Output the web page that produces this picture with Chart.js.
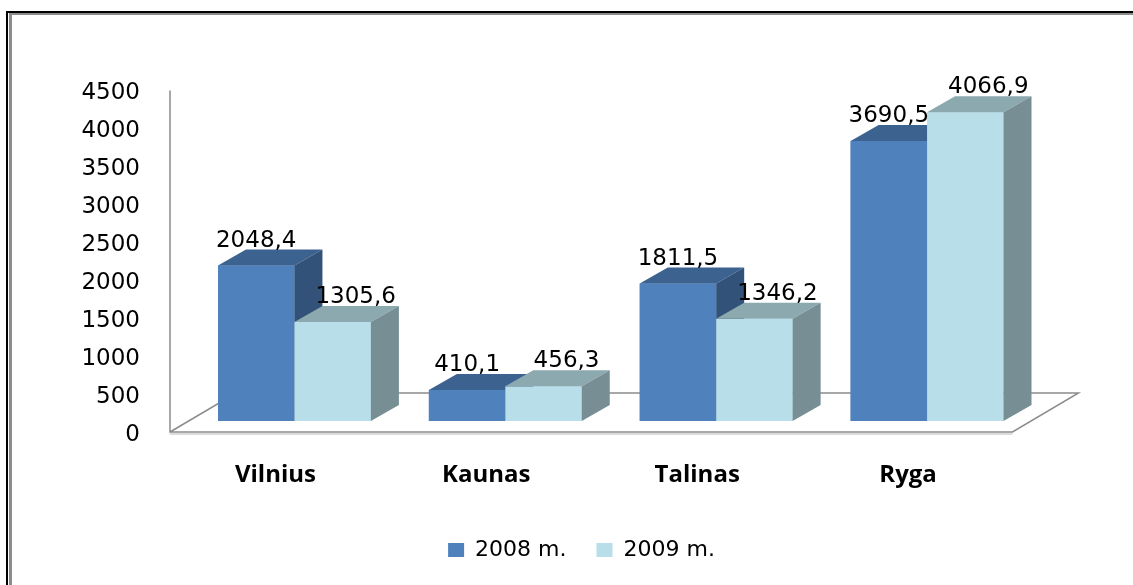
<!DOCTYPE html>
<html>
<head>
<meta charset="utf-8">
<script src="https://cdn.jsdelivr.net/npm/chart.js@4/dist/chart.umd.min.js"></script>
<style>
  html, body { margin: 0; padding: 0; background: #fff; overflow: hidden; }
  #wrap { width: 1133px; height: 585px; position: relative; }
</style>
</head>
<body>
<div id="wrap"><canvas id="grafico" width="1133" height="585"></canvas></div>
<script>
// dados
const cidades = ['Vilnius', 'Kaunas', 'Talinas', 'Ryga'];
const anos = ['2008 m.', '2009 m.'];
const valores2008 = [2048.4, 410.1, 1811.5, 3690.5];
const valores2009 = [1305.6, 456.3, 1346.2, 4066.9];
const yMax = 4500;
const yPasso = 500;

const frente = ['#4F81BD', '#B8DEE9'];
const topo = ['#3C6290', '#8CA9B0'];
const lado = ['#33527A', '#768E94'];

// profundidade 3D (px)
const prof = { x: 28, y: -16 };
const piso = { x: 66, y: -39 };
const desloc = { x: -19, y: 11 };

function formatar(v) {
  return v.toFixed(1).replace('.', ',');
}

const efeito3d = {
  id: 'efeito3d',
  beforeDraw(chart) {
    const c = chart.ctx;
    c.save();
    c.fillStyle = '#fff';
    c.fillRect(0, 0, chart.width, chart.height);
    // moldura
    c.fillStyle = '#000';
    c.fillRect(6, 11, 2, chart.height - 11);
    c.fillRect(6, 11, chart.width - 6, 2);
    c.fillStyle = '#8c8c8c';
    c.fillRect(9, 13, 3, chart.height - 13);
    c.fillRect(9, 13, chart.width - 9, 2);
    c.restore();
  },
  beforeDatasetsDraw(chart) {
    const c = chart.ctx;
    const a = chart.chartArea;
    const y0 = chart.scales.y.getPixelForValue(0) + desloc.y;
    const yTop = chart.scales.y.getPixelForValue(yMax) + desloc.y;
    const xl = a.left + desloc.x;
    const xr = a.right + desloc.x - 1;
    c.save();
    // sombra do piso
    c.strokeStyle = '#dcdcdc';
    c.lineWidth = 2;
    c.beginPath();
    c.moveTo(xl, y0 + 2);
    c.lineTo(xr, y0 + 2);
    c.stroke();
    c.strokeStyle = '#8c8c8c';
    c.lineWidth = 1.5;
    c.beginPath();
    c.moveTo(xl, yTop);
    c.lineTo(xl, y0);
    c.lineTo(xr, y0);
    c.lineTo(xr + piso.x, y0 + piso.y);
    c.lineTo(xl + piso.x, y0 + piso.y);
    c.lineTo(xl, y0);
    c.stroke();
    c.restore();
  },
  afterDatasetsDraw(chart) {
    const c = chart.ctx;
    const metas = [chart.getDatasetMeta(0), chart.getDatasetMeta(1)];
    c.save();
    for (let i = 0; i < cidades.length; i++) {
      metas.forEach((meta, d) => {
        const b = meta.data[i].getProps(['x', 'y', 'base', 'width'], true);
        const l = b.x - b.width / 2;
        const r = b.x + b.width / 2;
        c.fillStyle = frente[d];
        c.fillRect(l, b.y, r - l, b.base - b.y);
        c.fillStyle = topo[d];
        c.beginPath();
        c.moveTo(l, b.y);
        c.lineTo(r, b.y);
        c.lineTo(r + prof.x, b.y + prof.y);
        c.lineTo(l + prof.x, b.y + prof.y);
        c.closePath();
        c.fill();
        c.fillStyle = lado[d];
        c.beginPath();
        c.moveTo(r, b.y);
        c.lineTo(r + prof.x, b.y + prof.y);
        c.lineTo(r + prof.x, b.base + prof.y);
        c.lineTo(r, b.base);
        c.closePath();
        c.fill();
      });
    }
    // rótulos de valor
    c.fillStyle = '#000';
    c.font = '23px "DejaVu Sans"';
    c.textAlign = 'center';
    c.textBaseline = 'alphabetic';
    metas.forEach((meta, d) => {
      const serie = chart.data.datasets[d].data;
      meta.data.forEach((bar, i) => {
        const b = bar.getProps(['x', 'y'], true);
        c.fillText(formatar(serie[i]), b.x + (d === 1 ? 23 : 0), b.y + prof.y - 3);
      });
    });
    c.restore();
  }
};

new Chart(document.getElementById('grafico'), {
  type: 'bar',
  data: {
    labels: cidades,
    datasets: [
      { label: anos[0], data: valores2008, backgroundColor: frente[0], borderWidth: 0 },
      { label: anos[1], data: valores2009, backgroundColor: frente[1], borderWidth: 0 }
    ]
  },
  options: {
    responsive: false,
    animation: false,
    devicePixelRatio: 1,
    categoryPercentage: 0.725,
    barPercentage: 1,
    layout: { padding: { left: 30, top: 79.5, right: 0, bottom: 14 } },
    plugins: {
      tooltip: { enabled: false },
      legend: {
        position: 'bottom',
        labels: {
          boxWidth: 16,
          boxHeight: 14,
          padding: 30,
          color: '#000',
          font: { family: '"DejaVu Sans"', size: 22 }
        }
      }
    },
    scales: {
      x: {
        grid: { display: false, drawTicks: false },
        border: { display: false },
        ticks: {
          color: '#000',
          padding: 40,
          labelOffset: -19,
          font: { family: '"Open Sans"', size: 24, weight: 'bold' }
        },
        afterFit(scale) { scale.height = 88; }
      },
      y: {
        min: 0,
        max: yMax,
        grid: { display: false, drawTicks: false },
        border: { display: false },
        ticks: {
          stepSize: yPasso,
          color: '#000',
          padding: 49,
          labelOffset: 14,
          font: { family: '"DejaVu Sans"', size: 23 },
          callback: (v) => String(v)
        },
        afterFit(scale) { scale.width = 159; }
      },
      direita: {
        position: 'right',
        grid: { display: false, drawTicks: false },
        border: { display: false },
        ticks: { display: false },
        afterFit(scale) { scale.width = 100.5; }
      }
    }
  },
  plugins: [efeito3d]
});
</script>
</body>
</html>
